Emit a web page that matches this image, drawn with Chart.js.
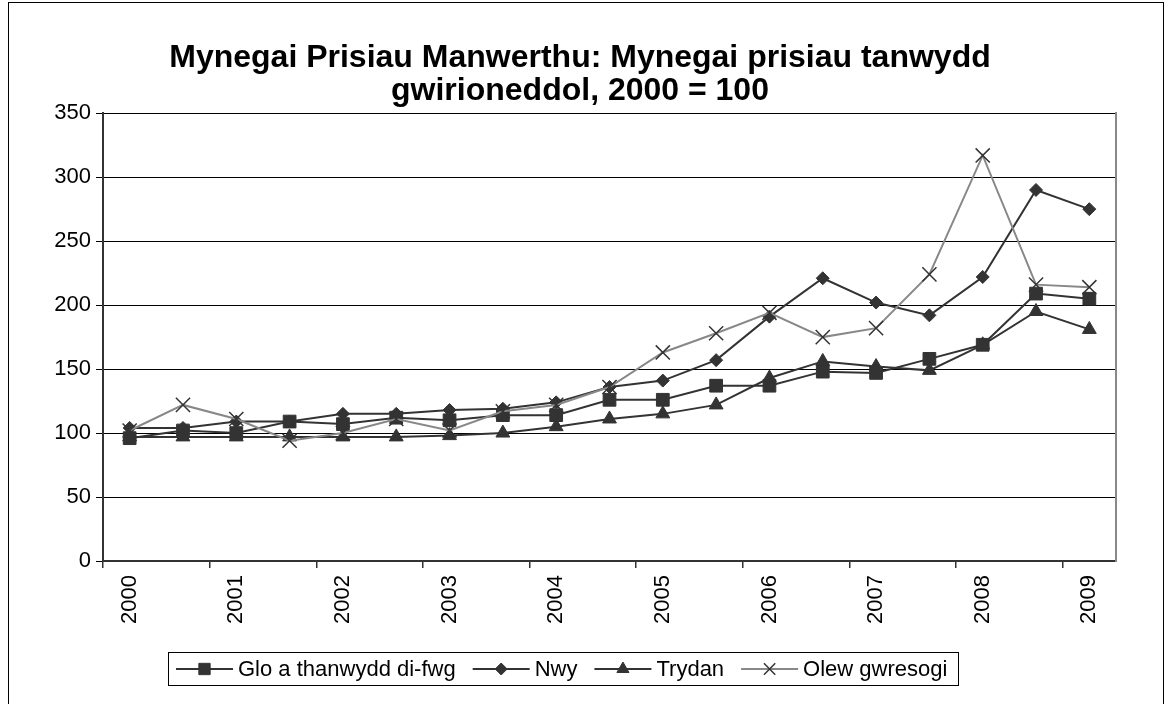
<!DOCTYPE html>
<html>
<head>
<meta charset="utf-8">
<script src="https://cdn.jsdelivr.net/npm/chart.js@4.4.1/dist/chart.umd.min.js"></script>
<style>
    html, body { margin: 0; padding: 0; background: #fff; }
    #wrap { position: relative; width: 1168px; height: 704px; overflow: hidden; }
    #frame { position: absolute; left: 8px; top: 2px; width: 1154px; height: 720px; border: 1px solid #000; pointer-events: none; }
</style>
</head>
<body>
<div id="wrap">
    <canvas id="fuel-chart" width="1168" height="704"></canvas>
    <div id="frame"></div>
</div>
<script>
// Tick labels: one category every half year, a label every other one
const periods = ['2000', '', '2001', '', '2002', '', '2003', '', '2004', '', '2005', '', '2006', '', '2007', '', '2008', '', '2009'];

const glo    = [96, 102, 100, 109, 107, 112, 110, 114, 114, 126, 126, 137, 137, 148, 147, 158, 169, 209, 205];
const nwy    = [104, 104, 109, 109, 115, 115, 118, 119, 124, 136, 141, 157, 191, 221, 202, 192, 222, 290, 275];
const trydan = [97, 97, 97, 97, 97, 97, 98, 100, 105, 111, 115, 122, 143, 156, 152, 149, 169, 195, 181];
const olew   = [102, 122, 111, 94, 100, 111, 102, 117, 122, 136, 163, 178, 194, 175, 182, 224, 317, 216, 214];

const FONT = '"Liberation Sans", Arial, sans-serif';

// Draws the boxed legend under the axis, line + marker for each series
const boxedLegend = {
    id: 'boxedLegend',
    afterDraw(chart) {
        const ctx = chart.ctx;
        ctx.save();
        ctx.font = '22px ' + FONT;
        const lineLen = 57, gap = 5, itemGap = 17, padL = 8, padR = 11;
        const items = chart.data.datasets.map(ds => ({
            ds: ds,
            w: lineLen + gap + ctx.measureText(ds.label).width
        }));
        const total = items.reduce((s, it) => s + it.w, 0) + itemGap * (items.length - 1) + padL + padR;
        const top = 652, h = 33;
        let x = Math.round(563 - total / 2);
        ctx.strokeStyle = '#000';
        ctx.lineWidth = 1;
        ctx.strokeRect(x + 0.5, top + 0.5, Math.round(total), h);
        x += padL;
        const cy = top + h / 2 + 0.5;
        items.forEach(it => {
            const ds = it.ds;
            ctx.strokeStyle = ds.borderColor;
            ctx.lineWidth = ds.borderWidth;
            ctx.beginPath();
            ctx.moveTo(x, cy);
            ctx.lineTo(x + lineLen, cy);
            ctx.stroke();
            ctx.fillStyle = ds.pointBackgroundColor;
            ctx.strokeStyle = ds.pointBorderColor;
            ctx.lineWidth = ds.pointBorderWidth;
            Chart.helpers.drawPoint(ctx, {
                pointStyle: ds.pointStyle,
                radius: ds.legendRadius,
                rotation: 0,
                borderWidth: ds.pointBorderWidth
            }, x + lineLen / 2, cy);
            ctx.fillStyle = '#000';
            ctx.textBaseline = 'middle';
            ctx.textAlign = 'left';
            ctx.fillText(ds.label, x + lineLen + gap, cy + 1);
            x += it.w + itemGap;
        });
        ctx.restore();
    }
};

const ctx = document.getElementById('fuel-chart').getContext('2d');

new Chart(ctx, {
    type: 'line',
    data: {
        labels: periods,
        datasets: [
            {
                label: 'Glo a thanwydd di-fwg',
                data: glo,
                borderColor: '#333333',
                borderWidth: 2,
                pointStyle: 'rect',
                pointRadius: 9,
                legendRadius: 8,
                pointBackgroundColor: '#333333',
                pointBorderColor: '#333333',
                pointBorderWidth: 1,
                tension: 0,
                order: 3
            },
            {
                label: 'Nwy',
                data: nwy,
                borderColor: '#333333',
                borderWidth: 2,
                pointStyle: 'rectRot',
                pointRadius: 6.5,
                legendRadius: 6,
                pointBackgroundColor: '#333333',
                pointBorderColor: '#333333',
                pointBorderWidth: 1,
                tension: 0,
                order: 2
            },
            {
                label: 'Trydan',
                data: trydan,
                borderColor: '#333333',
                borderWidth: 2,
                pointStyle: 'triangle',
                pointRadius: 8,
                legendRadius: 7,
                pointBackgroundColor: '#333333',
                pointBorderColor: '#333333',
                pointBorderWidth: 1,
                tension: 0,
                order: 1
            },
            {
                label: 'Olew gwresogi',
                data: olew,
                borderColor: '#888888',
                borderWidth: 2,
                pointStyle: 'crossRot',
                pointRadius: 10,
                legendRadius: 8,
                pointBackgroundColor: '#333333',
                pointBorderColor: '#333333',
                pointBorderWidth: 1.5,
                tension: 0,
                order: 0
            }
        ]
    },
    options: {
        responsive: false,
        animation: false,
        layout: { padding: { top: 0, left: 0, right: 8, bottom: 0 } },
        plugins: {
            legend: { display: false },
            tooltip: { enabled: false },
            title: {
                display: true,
                text: ['Mynegai Prisiau Manwerthu: Mynegai prisiau tanwydd', 'gwirioneddol, 2000 = 100'],
                color: '#000',
                font: { family: FONT, size: 32, weight: 'bold', lineHeight: 1.05 },
                padding: { top: 41, bottom: 5 }
            }
        },
        scales: {
            x: {
                type: 'category',
                offset: true,
                grid: {
                    offset: true,
                    drawOnChartArea: false,
                    drawTicks: true,
                    tickLength: 7,
                    lineWidth: 1.5,
                    color: c => (c.index % 2 === 0 ? '#333333' : 'rgba(0,0,0,0)')
                },
                border: { color: '#333333', width: 2 },
                ticks: {
                    autoSkip: false,
                    maxRotation: 90,
                    minRotation: 90,
                    color: '#000',
                    padding: 7,
                    font: { family: FONT, size: 22 }
                },
                afterFit: s => { s.height = 143; }
            },
            y: {
                min: 0,
                max: 350,
                ticks: {
                    stepSize: 50,
                    color: '#000',
                    padding: 5,
                    font: { family: FONT, size: 22 }
                },
                grid: { color: '#000', lineWidth: 1, tickLength: 7 },
                border: { color: '#333333', width: 2 },
                afterFit: s => { s.width = 103; }
            },
            y2: {
                position: 'right',
                display: true,
                min: 0,
                max: 350,
                grid: { display: false },
                ticks: { display: false },
                border: { display: true, color: '#888888', width: 2 },
                afterFit: s => { s.width = 44; }
            }
        }
    },
    plugins: [boxedLegend]
});
</script>
</body>
</html>
